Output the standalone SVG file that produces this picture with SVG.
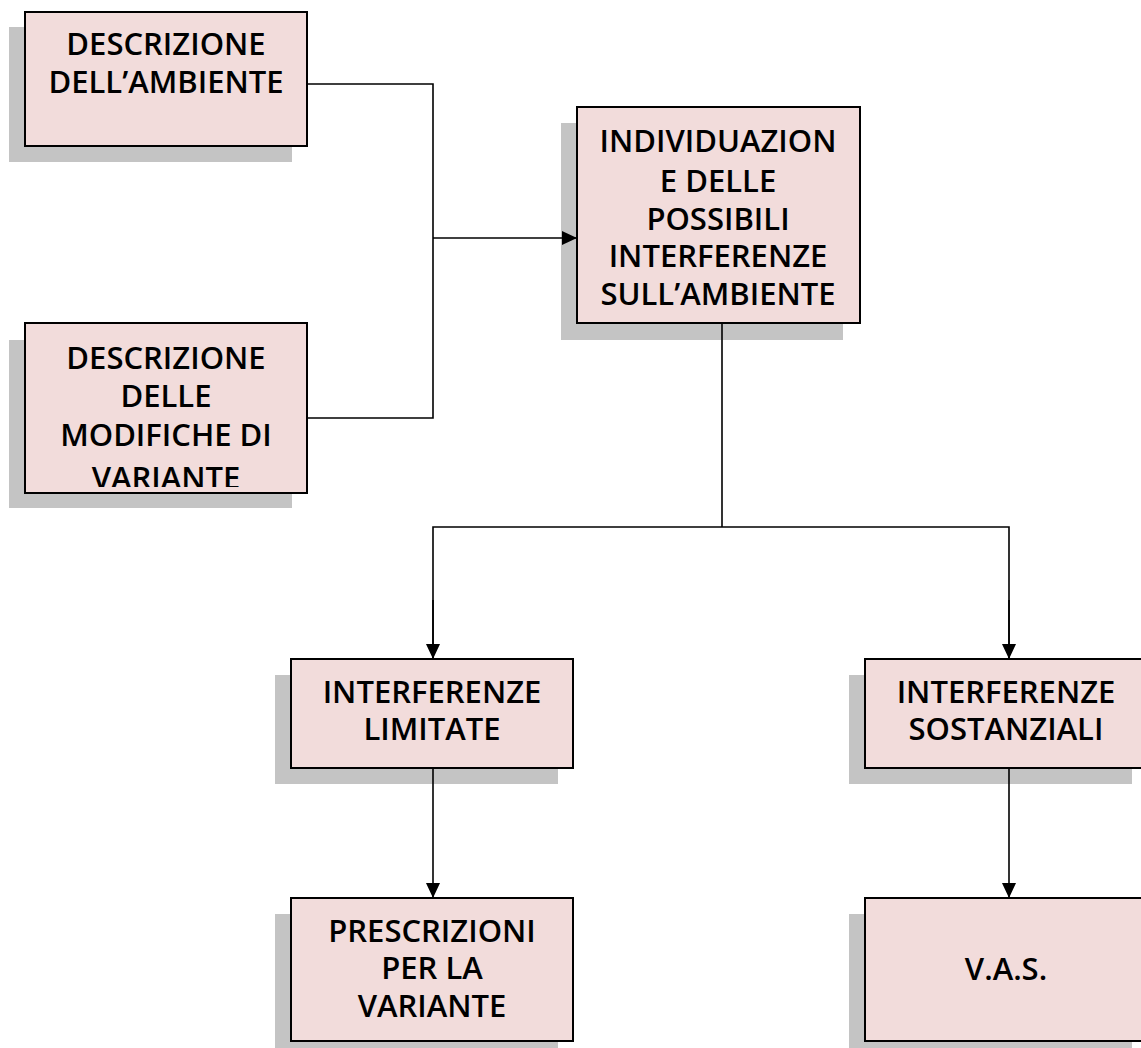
<svg xmlns="http://www.w3.org/2000/svg" width="1141" height="1048" viewBox="0 0 1141 1048">
<defs>
<style>
.shadow{fill:#c4c4c4}
.box{fill:#f2dcdb;stroke:#000;stroke-width:2}
.t{font-family:"Open Sans","Liberation Sans",sans-serif;font-weight:600;font-size:31px;fill:#000;text-anchor:middle}
.c{fill:none;stroke:#000;stroke-width:1.6}
</style>
<marker id="arr" markerUnits="userSpaceOnUse" markerWidth="16" markerHeight="14" refX="15" refY="7" orient="auto">
<path d="M0,0 L15,7 L0,14 z" fill="#000"/>
</marker>
<clipPath id="clip2"><rect x="25" y="323" width="282" height="164"/></clipPath>
</defs>
<rect width="1141" height="1048" fill="#fff"/>
<g id="n1">
<rect class="shadow" x="9" y="27" width="283" height="135"/>
<rect class="box" x="25" y="12" width="282" height="134"/>
<text class="t" x="166" y="55">DESCRIZIONE</text>
<text class="t" x="166" y="93">DELL’AMBIENTE</text>
</g>
<g id="n2">
<rect class="shadow" x="9" y="340" width="283" height="168"/>
<rect class="box" x="25" y="323" width="282" height="170"/>
<g clip-path="url(#clip2)">
<text class="t" x="166" y="369">DESCRIZIONE</text>
<text class="t" x="166" y="407">DELLE</text>
<text class="t" x="166" y="446">MODIFICHE DI</text>
<text class="t" x="166" y="489">VARIANTE</text>
</g>
</g>
<g id="n3">
<rect class="shadow" x="561" y="123" width="282" height="217"/>
<rect class="box" x="577" y="107" width="283" height="216"/>
<text class="t" x="718" y="152">INDIVIDUAZION</text>
<text class="t" x="718" y="192">E DELLE</text>
<text class="t" x="718" y="230">POSSIBILI</text>
<text class="t" x="718" y="267">INTERFERENZE</text>
<text class="t" x="718" y="305">SULL’AMBIENTE</text>
</g>
<g id="n4">
<rect class="shadow" x="275" y="675" width="283" height="109"/>
<rect class="box" x="291" y="659" width="282" height="109"/>
<text class="t" x="432" y="703">INTERFERENZE</text>
<text class="t" x="432" y="740">LIMITATE</text>
</g>
<g id="n5">
<rect class="shadow" x="849" y="675" width="283" height="109"/>
<rect class="box" x="865" y="659" width="282" height="109"/>
<text class="t" x="1006" y="703">INTERFERENZE</text>
<text class="t" x="1006" y="740">SOSTANZIALI</text>
</g>
<g id="n6">
<rect class="shadow" x="275" y="914" width="283" height="143"/>
<rect class="box" x="291" y="898" width="282" height="143"/>
<text class="t" x="432" y="942">PRESCRIZIONI</text>
<text class="t" x="432" y="979">PER LA</text>
<text class="t" x="432" y="1017">VARIANTE</text>
</g>
<g id="n7">
<rect class="shadow" x="849" y="914" width="283" height="143"/>
<rect class="box" x="865" y="898" width="282" height="143"/>
<text class="t" x="1006" y="980">V.A.S.</text>
</g>
<g id="connectors">
<path class="c" d="M307,84 H433 V418 H307"/>
<path class="c" d="M433,238 H577" marker-end="url(#arr)"/>
<path class="c" d="M722,324 V527"/>
<path class="c" d="M433,659 V527 H1009 V659"/>
<path class="c" d="M433,600 V659" marker-end="url(#arr)"/>
<path class="c" d="M1009,600 V659" marker-end="url(#arr)"/>
<path class="c" d="M433,769 V898" marker-end="url(#arr)"/>
<path class="c" d="M1009,769 V898" marker-end="url(#arr)"/>
</g>
</svg>
